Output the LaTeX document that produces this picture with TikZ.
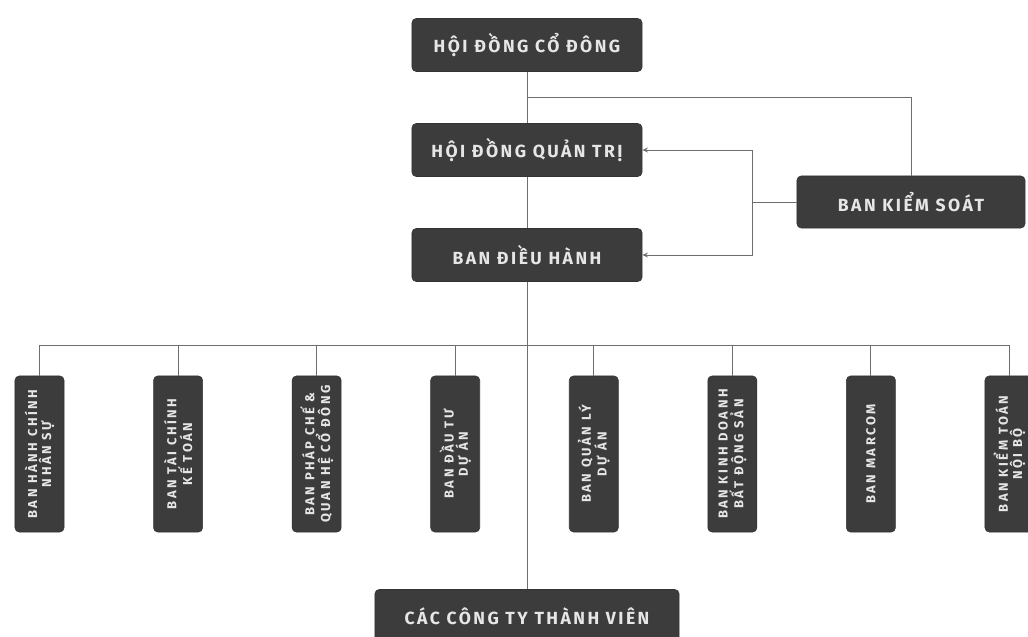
\documentclass[tikz,border=0pt]{standalone}
\usepackage{fontspec}
\setmainfont{Fira Sans}
\usetikzlibrary{arrows.meta,positioning}

\definecolor{boxgray}{HTML}{3C3C3C}
\definecolor{linegray}{HTML}{6E6E6E}
\definecolor{textgray}{HTML}{E6E6E6}

\begin{document}
\begin{tikzpicture}[
    x=0.025cm, y=-0.025cm,
    box/.style={fill=boxgray, draw=black!80, rounded corners=3pt, text=textgray,
        font=\fontsize{12.5}{14}\selectfont\bfseries\addfontfeatures{LetterSpace=14},
        minimum width=5.75cm, minimum height=1.325cm, inner sep=0pt},
    dept/.style={fill=boxgray, draw=black!80, rounded corners=3pt, text=textgray,
        font=\fontsize{9.2}{10}\selectfont\bfseries\addfontfeatures{LetterSpace=20},
        rotate=90, align=center, minimum width=3.9cm, minimum height=1.225cm, inner sep=0pt},
    conn/.style={draw=linegray, line width=0.7pt},
    arr/.style={conn, -{Stealth[length=4pt,width=3.5pt]}},
]
\useasboundingbox (0,0) rectangle (1028,637);

% top of the tree
\node[box] (hdcd) at (527,45) {HỘI ĐỒNG CỔ ĐÔNG};
\node[box] (hdqt) at (527,150) {HỘI ĐỒNG QUẢN TRỊ};
\node[box] (bdh) at (527,255) {BAN ĐIỀU HÀNH};
\node[box, minimum width=5.7cm, minimum height=1.3cm] (bks) at (911,202) {BAN KIỂM SOÁT};
\node[box, minimum width=7.6cm] (ctv) at (527,616) {CÁC CÔNG TY THÀNH VIÊN};

\coordinate (split) at (527,97);
\coordinate (jn) at (752,202);
\coordinate (busL) at (39.5,345);
\coordinate (busR) at (1009.5,345);

\draw[conn] (hdcd.south) -- (hdqt.north);
\draw[conn] (split) -| (bks.north);
\draw[conn] (hdqt.south) -- (bdh.north);
\draw[conn] (bdh.south) -- (ctv.north);
\draw[conn] (bks.west) -- (jn);
\draw[arr] (jn) |- (hdqt.east);
\draw[arr] (jn) |- (bdh.east);
\draw[conn] (busL) -- (busR);

% departments
\foreach \i/\txt in {
    1/{BAN HÀNH CHÍNH\\NHÂN SỰ},
    2/{BAN TÀI CHÍNH\\KẾ TOÁN},
    3/{BAN PHÁP CHẾ \&\\QUAN HỆ CỔ ĐÔNG},
    4/{BAN ĐẦU TƯ\\DỰ ÁN},
    5/{BAN QUẢN LÝ\\DỰ ÁN},
    6/{BAN KINH DOANH\\BẤT ĐỘNG SẢN},
    7/{BAN MARCOM},
    8/{BAN KIỂM TOÁN\\NỘI BỘ}} {
    \node[dept] (d\i) at ({39.5+138.57*(\i-1)},454) {\txt};
    \draw[conn] (d\i.east) -- (d\i.east |- busL);
}
\end{tikzpicture}
\end{document}
